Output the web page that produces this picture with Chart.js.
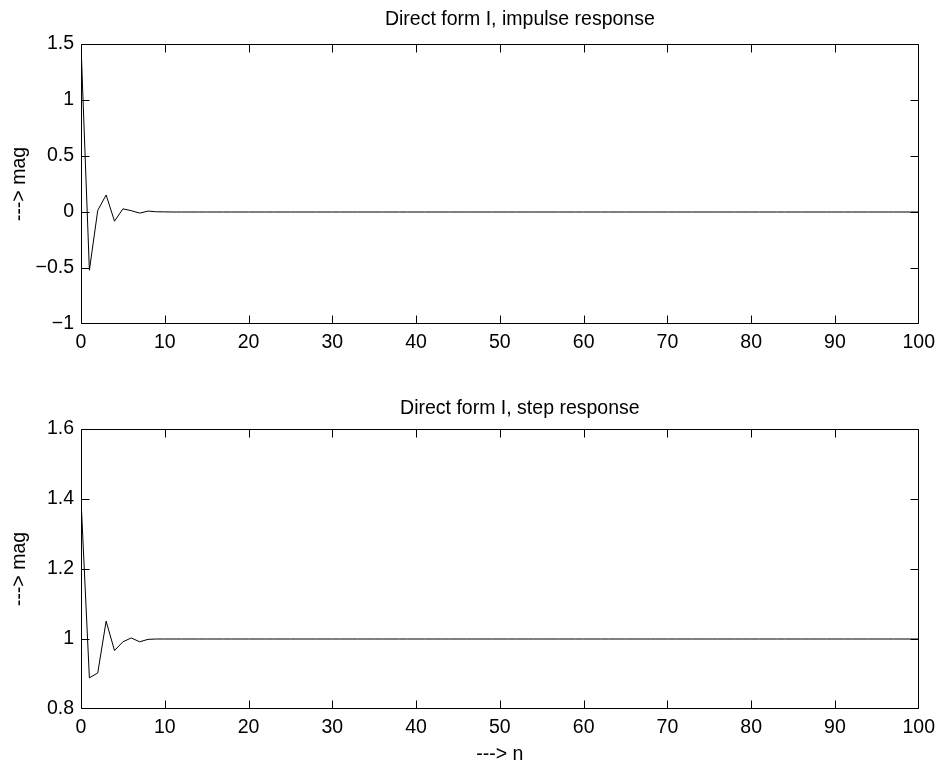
<!DOCTYPE html>
<html>
<head>
<meta charset="utf-8">
<script src="https://cdn.jsdelivr.net/npm/chart.js@4/dist/chart.umd.min.js"></script>
<style>
  body { margin: 0; background: #fff; }
  canvas { position: absolute; left: 0; }
</style>
</head>
<body>
<canvas id="impulseChart" width="942" height="383" style="top:0px"></canvas>
<canvas id="stepChart" width="942" height="384" style="top:383px"></canvas>
<script>
// sample index n
const n = [
  0, 1, 2, 3, 4, 5, 6, 7, 8, 9,
  10, 11, 12, 13, 14, 15, 16, 17, 18, 19,
  20, 21, 22, 23, 24, 25, 26, 27, 28, 29,
  30, 31, 32, 33, 34, 35, 36, 37, 38, 39,
  40, 41, 42, 43, 44, 45, 46, 47, 48, 49,
  50, 51, 52, 53, 54, 55, 56, 57, 58, 59,
  60, 61, 62, 63, 64, 65, 66, 67, 68, 69,
  70, 71, 72, 73, 74, 75, 76, 77, 78, 79,
  80, 81, 82, 83, 84, 85, 86, 87, 88, 89,
  90, 91, 92, 93, 94, 95, 96, 97, 98, 99,
  100
];

const impulse = [
  1.49, -0.52, 0.015, 0.152, -0.082, 0.028, 0.012, -0.01, 0.008, 0.002,
  0.001, 0, 0, 0, 0, 0, 0, 0, 0, 0,
  0, 0, 0, 0, 0, 0, 0, 0, 0, 0,
  0, 0, 0, 0, 0, 0, 0, 0, 0, 0,
  0, 0, 0, 0, 0, 0, 0, 0, 0, 0,
  0, 0, 0, 0, 0, 0, 0, 0, 0, 0,
  0, 0, 0, 0, 0, 0, 0, 0, 0, 0,
  0, 0, 0, 0, 0, 0, 0, 0, 0, 0,
  0, 0, 0, 0, 0, 0, 0, 0, 0, 0,
  0, 0, 0, 0, 0, 0, 0, 0, 0, 0,
  0
];

const step = [
  1.4, 0.889, 0.903, 1.051, 0.967, 0.992, 1.003, 0.992, 0.999, 1.0,
  1, 1, 1, 1, 1, 1, 1, 1, 1, 1,
  1, 1, 1, 1, 1, 1, 1, 1, 1, 1,
  1, 1, 1, 1, 1, 1, 1, 1, 1, 1,
  1, 1, 1, 1, 1, 1, 1, 1, 1, 1,
  1, 1, 1, 1, 1, 1, 1, 1, 1, 1,
  1, 1, 1, 1, 1, 1, 1, 1, 1, 1,
  1, 1, 1, 1, 1, 1, 1, 1, 1, 1,
  1, 1, 1, 1, 1, 1, 1, 1, 1, 1,
  1, 1, 1, 1, 1, 1, 1, 1, 1, 1,
  1
];

const xTicks = [0, 10, 20, 30, 40, 50, 60, 70, 80, 90, 100];
const impulseTicks = [-1, -0.5, 0, 0.5, 1, 1.5];
const stepTicks = [0.8, 1, 1.2, 1.4, 1.6];

const FONT = 'Liberation Sans, Arial, Helvetica, sans-serif';
const FS = 19.5;

function fmt(v) {
  return String(Number(v.toFixed(3))).replace('-', '\u2212');
}

// matlab style box with inward ticks on all four sides, plus the title
const boxPlugin = {
  id: 'box',
  afterDatasetsDraw(chart, args, opts) {
    const { ctx, chartArea: a, scales } = chart;
    const L = Math.round(a.left) + 0.5, R = Math.round(a.right) - 0.5;
    const T = Math.round(a.top) + 0.5, B = Math.round(a.bottom) - 0.5;
    const clamp = (v, lo, hi) => Math.min(hi, Math.max(lo, v));
    ctx.save();
    ctx.strokeStyle = '#000';
    ctx.lineWidth = 1;
    ctx.beginPath();
    ctx.rect(L, T, R - L, B - T);
    scales.x.ticks.forEach(t => {
      const x = clamp(Math.round(scales.x.getPixelForValue(t.value)) + 0.5, L, R);
      ctx.moveTo(x, B); ctx.lineTo(x, B - 8);
      ctx.moveTo(x, T); ctx.lineTo(x, T + 8);
    });
    scales.y.ticks.forEach(t => {
      const y = clamp(Math.round(scales.y.getPixelForValue(t.value)) + 0.5, T, B);
      ctx.moveTo(L, y); ctx.lineTo(L + 8, y);
      ctx.moveTo(R, y); ctx.lineTo(R - 8, y);
    });
    ctx.stroke();
    ctx.fillStyle = '#000';
    ctx.font = FS + 'px ' + FONT;
    ctx.textAlign = 'center';
    ctx.textBaseline = 'middle';
    ctx.fillText(opts.text, (a.left + a.right) / 2 + 20, a.top - opts.gap);
    ctx.restore();
  }
};

function makeChart(id, values, ticks, title, titleGap, xTitle, areaTop, areaBottom, canvasH) {
  const ctx = document.getElementById(id).getContext('2d');
  return new Chart(ctx, {
    type: 'line',
    data: {
      datasets: [{
        data: values.map((v, i) => ({ x: n[i], y: v })),
        borderColor: '#000',
        borderWidth: 1,
        pointRadius: 0,
        tension: 0
      }]
    },
    options: {
      responsive: false,
      animation: false,
      layout: { padding: { top: areaTop, right: 23, left: 0, bottom: 0 } },
      plugins: {
        legend: { display: false },
        tooltip: { enabled: false },
        box: { text: title, gap: titleGap }
      },
      scales: {
        x: {
          type: 'linear',
          min: 0,
          max: 100,
          afterBuildTicks: s => { s.ticks = xTicks.map(v => ({ value: v })); },
          afterFit: s => { s.height = canvasH - areaBottom; },
          grid: { display: true, drawOnChartArea: false, drawTicks: false },
          border: { display: false },
          ticks: {
            padding: 7,
            color: '#000',
            maxRotation: 0,
            font: { family: FONT, size: FS },
            callback: v => fmt(v)
          },
          title: {
            display: !!xTitle,
            text: xTitle,
            color: '#000',
            padding: { top: 0, bottom: 1 },
            font: { family: FONT, size: FS }
          }
        },
        y: {
          type: 'linear',
          min: ticks[0],
          max: ticks[ticks.length - 1],
          afterBuildTicks: s => { s.ticks = ticks.map(v => ({ value: v })); },
          afterFit: s => { s.width = 81; },
          grid: { display: true, drawOnChartArea: false, drawTicks: false },
          border: { display: false },
          ticks: {
            padding: 7,
            color: '#000',
            font: { family: FONT, size: FS },
            callback: v => fmt(v)
          },
          title: {
            display: true,
            text: '---> mag',
            color: '#000',
            padding: { top: 8, bottom: 0 },
            font: { family: FONT, size: FS }
          }
        }
      }
    },
    plugins: [boxPlugin]
  });
}

makeChart('impulseChart', impulse, impulseTicks, 'Direct form I, impulse response', 24, '', 44, 324, 383);
makeChart('stepChart', step, stepTicks, 'Direct form I, step response', 20, '---> n', 46, 326, 384);
</script>
</body>
</html>
